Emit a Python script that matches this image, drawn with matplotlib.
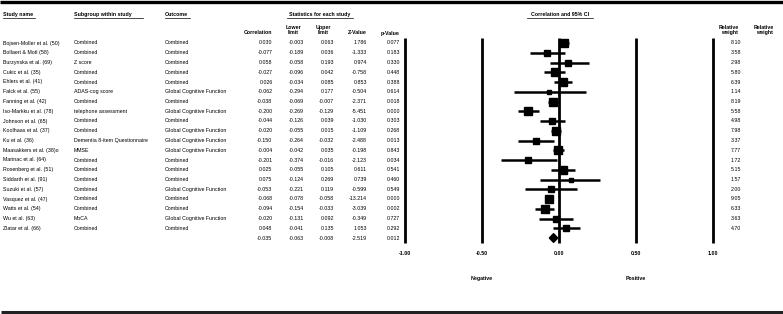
import numpy as np
import matplotlib.pyplot as plt
from matplotlib.patches import Polygon

plt.rcParams['font.family'] = ['Liberation Sans', 'DejaVu Sans']

# Study-level data
studies = ['Bojsen-Moller et al. (50)', 'Bollaert & Motl (58)', 'Burzynska et al. (69)',
           'Cukic et al. (35)', 'Ehlers et al. (41)', 'Falck et al. (55)', 'Fanning et al. (42)',
           'Iso-Markku et al. (78)', 'Johnson et al. (65)', 'Koolhaas et al. (37)', 'Ku et al. (36)',
           'Maasakkers et al. (38)o', 'Marinac et al. (64)', 'Rosenberg et al. (51)',
           'Siddarth et al. (91)', 'Suzuki et al. (57)', 'Vasquez et al. (47)', 'Watts et al. (54)',
           'Wu et al. (63)', 'Zlatar et al. (66)']
subgroups = ['Combined', 'Combined', 'Z score', 'Combined', 'Combined', 'ADAS-cog score',
             'Combined', 'telephone assessment', 'Combined', 'Combined',
             'Dementia 8-item Questionnaire', 'MMSE', 'Combined', 'Combined', 'Combined',
             'Combined', 'Combined', 'Combined', 'MoCA', 'Combined']
outcomes = ['Combined', 'Combined', 'Combined', 'Combined', 'Combined',
            'Global Cognitive Function', 'Combined', 'Global Cognitive Function', 'Combined',
            'Global Cognitive Function', 'Global Cognitive Function', 'Global Cognitive Function',
            'Combined', 'Combined', 'Combined', 'Global Cognitive Function', 'Combined',
            'Combined', 'Global Cognitive Function', 'Combined']
corr = [0.030, -0.077, 0.058, -0.027, 0.026, -0.062, -0.038, -0.200, -0.044, -0.020, -0.150,
        -0.004, -0.201, 0.025, 0.075, -0.053, -0.068, -0.094, -0.020, 0.048]
lower = [-0.003, -0.189, -0.058, -0.096, -0.034, -0.294, -0.069, -0.269, -0.126, -0.055,
         -0.264, -0.042, -0.374, -0.055, -0.124, -0.221, -0.078, -0.154, -0.131, -0.041]
upper = [0.063, 0.036, 0.193, 0.042, 0.085, 0.177, -0.007, -0.129, 0.039, 0.015, -0.032,
         0.035, -0.016, 0.105, 0.269, 0.119, -0.058, -0.033, 0.092, 0.135]
zval = [1.786, -1.333, 0.974, -0.758, 0.853, -0.504, -2.371, -5.451, -1.030, -1.109, -2.488,
        -0.198, -2.123, 0.611, 0.739, -0.599, -13.214, -3.039, -0.349, 1.053]
pval = [0.077, 0.183, 0.330, 0.448, 0.388, 0.614, 0.018, 0.000, 0.303, 0.268, 0.013, 0.843,
        0.034, 0.541, 0.460, 0.549, 0.000, 0.002, 0.727, 0.292]
weight = [8.10, 3.58, 2.98, 5.80, 6.39, 1.14, 8.19, 5.58, 4.98, 7.98, 3.37, 7.77, 1.72, 5.15,
          1.57, 2.00, 9.05, 6.33, 3.63, 4.70]

# Pooled estimate
pooled = dict(corr=-0.035, lower=-0.063, upper=-0.008, z=-2.519, p=0.012)

axis_ticks = [-1.0, -0.5, 0.0, 0.5, 1.0]

W, H = 783, 314
fig = plt.figure(figsize=(W / 100, H / 100), dpi=100)

# text layer in pixel coordinates
tx = fig.add_axes([0, 0, 1, 1])
tx.set_xlim(0, W)
tx.set_ylim(H, 0)
tx.axis('off')

# forest layer: -1..1 spans 405..713 px, rows spaced 9.75 px from y=43
row0, dy = 43.0, 9.75
fx0, fx1 = 405.0, 713.0
fa = fig.add_axes([fx0 / W, 0, (fx1 - fx0) / W, 1])
fa.set_xlim(-1, 1)
fa.set_ylim((H - row0) / dy, -row0 / dy)
fa.axis('off')

fs = 3.8
n = len(studies)

def row_y(i):
    return row0 + dy * i

# frame lines
tx.plot([0, W], [1.5, 1.5], color='black', lw=2.4, solid_capstyle='butt')
tx.plot([1, W], [312, 312], color='#222222', lw=2.2, solid_capstyle='butt')

# headers
hdr = dict(fontsize=fs, fontweight='bold', va='center')
for x, s in [(3, 'Study name'), (74, 'Subgroup within study'), (165, 'Outcome')]:
    tx.text(x, 14.5, s, ha='left', **hdr)
tx.text(320, 14.5, 'Statistics for each study', ha='center', **hdr)
tx.text(560, 14.5, 'Correlation and 95% CI', ha='center', **hdr)

def underline(x0, x1, y):
    tx.plot([x0, x1], [y, y], color='black', lw=0.5)

underline(3, 35, 18)
underline(74, 143, 18)
underline(165, 190, 18)
underline(287, 353, 18)
underline(527, 593, 18)

tx.text(272.5, 33, 'Correlation', ha='right', **hdr)
tx.text(293, 30, 'Lower\nlimit', ha='center', linespacing=1.1, **hdr)
tx.text(323, 30, 'Upper\nlimit', ha='center', linespacing=1.1, **hdr)
tx.text(357, 33, 'Z-Value', ha='center', **hdr)
tx.text(390, 33, 'p-Value', ha='center', **hdr)
tx.text(729, 30, 'Relative\nweight', ha='center', linespacing=1.1, **hdr)
tx.text(764, 30, 'Relative\nweight', ha='center', linespacing=1.1, **hdr)

# rows
cell = dict(fontsize=fs, va='center')
for i in range(n):
    y = row_y(i)
    tx.text(3, y, studies[i], ha='left', **cell)
    tx.text(74, y, subgroups[i], ha='left', **cell)
    tx.text(165, y, outcomes[i], ha='left', **cell)
    tx.text(272.5, y, f'{corr[i]:.3f}', ha='right', **cell)
    tx.text(304, y, f'{lower[i]:.3f}', ha='right', **cell)
    tx.text(334, y, f'{upper[i]:.3f}', ha='right', **cell)
    tx.text(367, y, f'{zval[i]:.3f}', ha='right', **cell)
    tx.text(400, y, f'{pval[i]:.3f}', ha='right', **cell)
    tx.text(741, y, f'{weight[i]:.2f}', ha='right', **cell)

y = row_y(n)
tx.text(272.5, y, f"{pooled['corr']:.3f}", ha='right', **cell)
tx.text(304, y, f"{pooled['lower']:.3f}", ha='right', **cell)
tx.text(334, y, f"{pooled['upper']:.3f}", ha='right', **cell)
tx.text(367, y, f"{pooled['z']:.3f}", ha='right', **cell)
tx.text(400, y, f"{pooled['p']:.3f}", ha='right', **cell)

# forest plot
for v in axis_ticks:
    fa.plot([v, v], [-0.5, n + 0.5], color='black', lw=2.0, solid_capstyle='butt',
            clip_on=False)
    fa.text(v, n + 1.55, f'{v:.2f}', ha='center', va='center', fontsize=fs,
            fontweight='bold', clip_on=False)

rows = np.arange(n)
fa.hlines(rows, lower, upper, color='black', lw=1.8, clip_on=False)
for i in range(n):
    side = (2.3 + 2.1 * np.sqrt(weight[i])) * 0.72
    fa.plot(corr[i], i, marker='s', ms=side, color='black', mec='black', clip_on=False)

d = Polygon([[pooled['lower'], n], [pooled['corr'], n - 0.45],
             [pooled['upper'], n], [pooled['corr'], n + 0.45]],
            closed=True, color='black', clip_on=False)
fa.add_patch(d)

fa.text(-0.5, n + 4.2, 'Negative', ha='center', va='center', fontsize=fs,
        fontweight='bold', clip_on=False)
fa.text(0.5, n + 4.2, 'Positive', ha='center', va='center', fontsize=fs,
        fontweight='bold', clip_on=False)

fig.savefig('out.png', dpi=100)
